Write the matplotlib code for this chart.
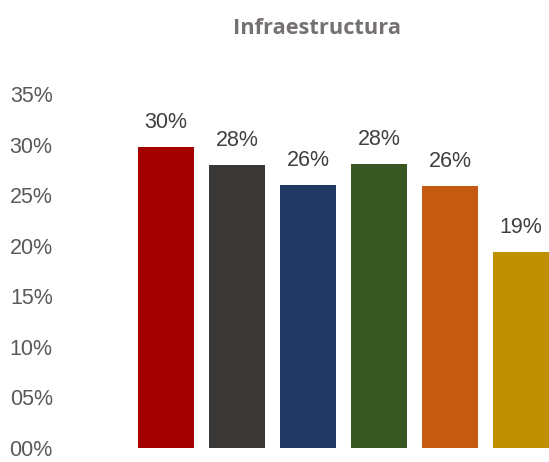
import matplotlib
matplotlib.use("Agg")
import matplotlib.pyplot as plt
from matplotlib.ticker import FuncFormatter

# datos del gráfico
categorias = ["A", "B", "C", "D", "E", "F"]
valores = [0.298, 0.280, 0.260, 0.281, 0.259, 0.194]
colores = ["#A50000", "#3A3836", "#203864", "#385723", "#C55A11", "#BF9000"]
ticks_y = [0.00, 0.05, 0.10, 0.15, 0.20, 0.25, 0.30, 0.35]
titulo = "Infraestructura"

W, H = 549, 462
fig = plt.figure(figsize=(W / 100, H / 100), dpi=100)
ax = fig.add_axes([130.5 / W, 14 / H, 426 / W, 354 / H])

x = range(len(categorias))
ax.bar(x, valores, width=0.79, color=colores)

# etiquetas de valor encima de cada barra
for i, v in enumerate(valores):
    ax.annotate("{:.0f}%".format(v * 100), (i, v), xytext=(0, 13.5), textcoords="offset points",
                ha="center", va="baseline", fontsize=15.5, color="#404040",
                family="Liberation Sans")

ax.set_xlim(-0.5, len(categorias) - 0.5)
ax.set_ylim(0, 0.35)
ax.set_yticks(ticks_y)
ax.yaxis.set_major_formatter(FuncFormatter(lambda v, p: "{:02.0f}%".format(v * 100)))
ax.tick_params(axis="y", length=0, pad=56, labelsize=15.5, labelcolor="#595959")
for lbl in ax.get_yticklabels():
    lbl.set_family("Liberation Sans")
ax.set_xticks([])
for s in ax.spines.values():
    s.set_visible(False)

fig.text(317 / W, 1 - 28 / H, titulo, ha="center", va="center", fontsize=15.7,
         fontweight="bold", color="#767171", family="Open Sans")

fig.savefig("out.png", dpi=100)
